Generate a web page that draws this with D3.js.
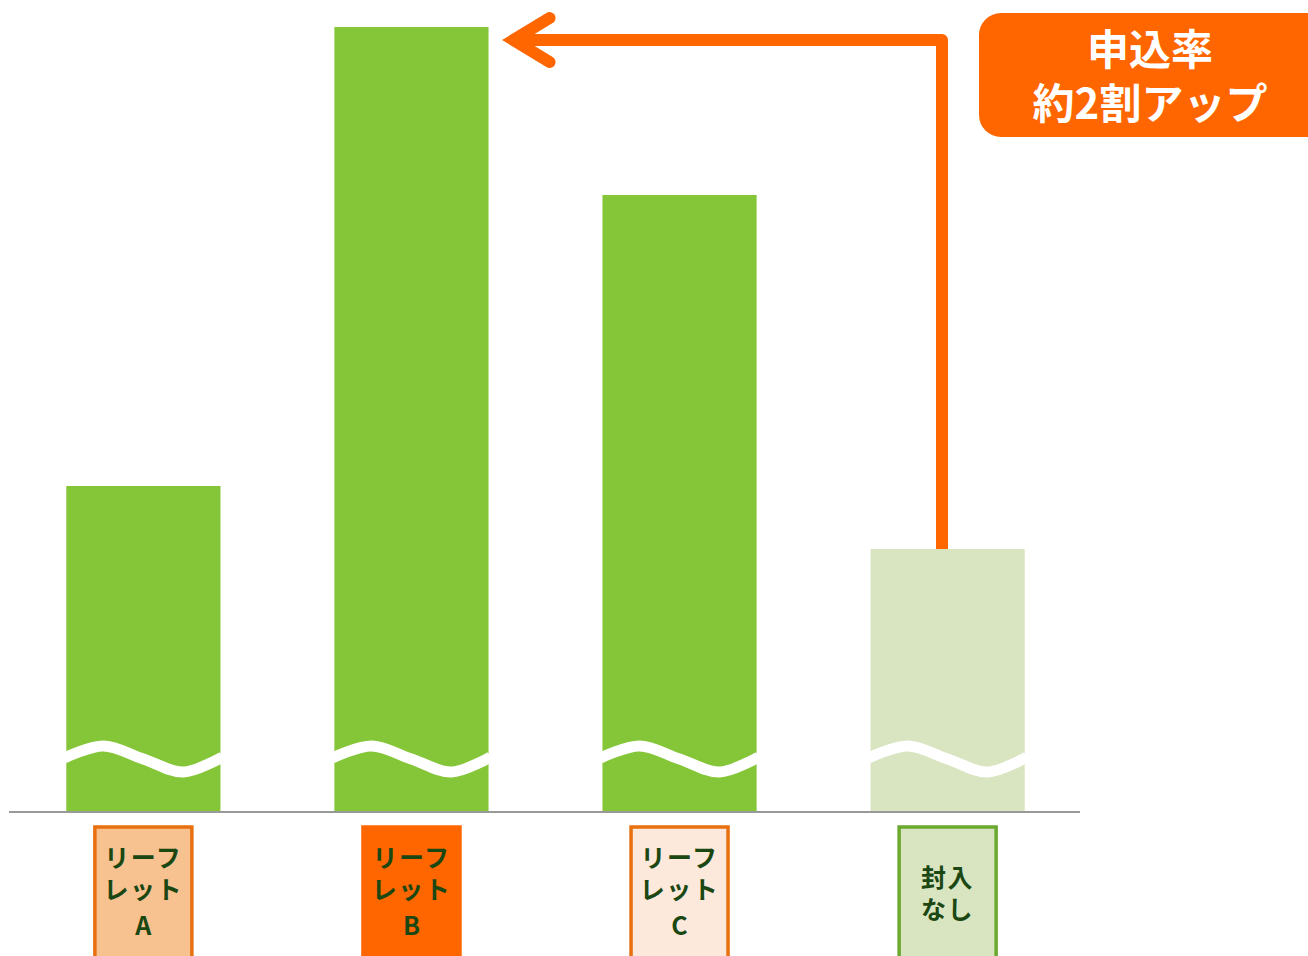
<!DOCTYPE html>
<html>
<head>
<meta charset="utf-8">
<script src="https://cdn.jsdelivr.net/npm/d3@7"></script>
<style>
  body { margin: 0; background: #fff; }
  text { font-family: "Noto Sans CJK JP", "Noto Sans", sans-serif; font-weight: 700; }
</style>
</head>
<body>
<div id="chart"></div>
<script>
// data (axis is broken, values are relative bar heights)
const categories = ["A", "B", "C", "D"];
const labels = [["リーフ", "レット", "A"], ["リーフ", "レット", "B"], ["リーフ", "レット", "C"], ["封入", "なし"]];
const values = [325, 784, 616, 262];
const calloutLines = ["申込率", "約2割アップ"];

const barFill = ["#84c637", "#84c637", "#84c637", "#d9e4c0"];
const boxFill = ["#f8c190", "#ff6600", "#fce9dc", "#d9e4c0"];
const boxStroke = ["#e8700f", "#ff6600", "#e8700f", "#6aa82e"];

const width = 1308, height = 956;
const baseY = 811;
const orange = "#ff6600";

const svg = d3.select("#chart").append("svg")
	.attr("width", width)
	.attr("height", height);

// scales
const x = d3.scaleBand()
	.domain(categories)
	.range([10, 1081])
	.paddingInner(0.425)
	.paddingOuter(0.21);

const y = d3.scaleLinear()
	.domain([0, 784])
	.range([baseY, 27]);

// bars
svg.selectAll(".bar")
	.data(values)
	.join("rect")
	.attr("class", "bar")
	.attr("x", (d, i) => x(categories[i]))
	.attr("y", d => y(d))
	.attr("width", x.bandwidth())
	.attr("height", d => baseY - y(d))
	.attr("fill", (d, i) => barFill[i]);

// wavy break marks
const wave = d3.line().curve(d3.curveCatmullRom);
categories.forEach(c => {
	const x0 = x(c), w = x.bandwidth();
	const pts = [[x0 - 2, 758], [x0 + w * 0.24, 746], [x0 + w * 0.5, 759], [x0 + w * 0.76, 772], [x0 + w + 2, 757]];
	svg.append("path")
		.attr("d", wave(pts))
		.attr("fill", "none")
		.attr("stroke", "#fff")
		.attr("stroke-width", 11);
});

// baseline
svg.append("line")
	.attr("x1", 9).attr("x2", 1080)
	.attr("y1", baseY + 1).attr("y2", baseY + 1)
	.attr("stroke", "#999")
	.attr("stroke-width", 2);

// category label boxes
const boxW = 97;
categories.forEach((c, i) => {
	const cx = x(c) + x.bandwidth() / 2;
	svg.append("rect")
		.attr("x", cx - boxW / 2)
		.attr("y", 827)
		.attr("width", boxW)
		.attr("height", 140)
		.attr("fill", boxFill[i])
		.attr("stroke", boxStroke[i])
		.attr("stroke-width", 3.5);
	const lines = labels[i];
	const y0 = lines.length === 3 ? 856 : 876;
	lines.forEach((t, j) => {
		svg.append("text")
			.attr("x", cx)
			.attr("y", y0 + j * (j === 2 ? 34 : 32))
			.attr("text-anchor", "middle")
			.attr("dominant-baseline", "central")
			.attr("font-size", 25)
			.attr("letter-spacing", t.length > 1 ? 1.5 : 0)
			.attr("fill", "#1a4712")
			.text(t);
	});
});

// arrow from 封入なし to リーフレットB
const ax = 942, ay = 40;
const tipX = x("B") + x.bandwidth() + 25;
svg.append("path")
	.attr("d", d3.line()([[ax, y(values[3])], [ax, ay], [tipX, ay]]))
	.attr("fill", "none")
	.attr("stroke", orange)
	.attr("stroke-width", 12)
	.attr("stroke-linejoin", "round");
svg.append("path")
	.attr("d", d3.line()([[tipX + 36, ay - 22], [tipX, ay], [tipX + 36, ay + 22]]))
	.attr("fill", "none")
	.attr("stroke", orange)
	.attr("stroke-width", 12)
	.attr("stroke-linecap", "round")
	.attr("stroke-linejoin", "miter");

// callout
svg.append("rect")
	.attr("x", 979).attr("y", 13)
	.attr("width", 360).attr("height", 124)
	.attr("rx", 22)
	.attr("fill", orange);
calloutLines.forEach((t, j) => {
	svg.append("text")
		.attr("x", 1150)
		.attr("y", 46 + j * 54)
		.attr("text-anchor", "middle")
		.attr("dominant-baseline", "central")
		.attr("font-size", 42)
		.attr("fill", "#fff")
		.text(t);
});
</script>
</body>
</html>
